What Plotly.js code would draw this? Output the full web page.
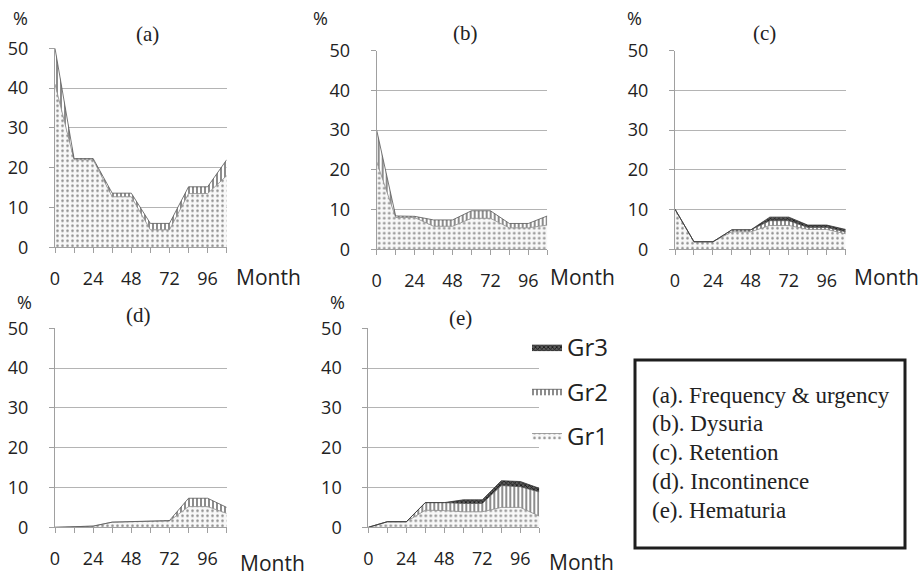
<!DOCTYPE html>
<html><head><meta charset="utf-8">
<script src="https://cdn.plot.ly/plotly-3.0.1.min.js"></script>
<style>html,body{margin:0;padding:0;background:#fff}</style>
</head><body><div id="chart" style="width:919px;height:577px"></div>
<script>
// ---- data ----
const months = [0,12,24,36,48,60,72,84,96,108];
const monthTickText = ['0','','24','','48','','72','','96',''];
const yTicks = [0,10,20,30,40,50];
const panelLabels = ['(a)','(b)','(c)','(d)','(e)'];
const symptomNames = ['(a). Frequency & urgency','(b). Dysuria','(c). Retention','(d). Incontinence','(e). Hematuria'];
const groupNames = ['Gr1','Gr2','Gr3'];

const freqGr1 = [41, 22, 22, 12.7, 12.7, 4.4, 4.4, 13.5, 13.5, 18];
const freqGr2 = [9, 0.3, 0.3, 0.9, 0.9, 1.6, 1.6, 1.7, 1.7, 4];
const freqGr3 = [0,0,0,0,0,0,0,0,0,0];

const dysGr1 = [22, 8, 8, 5.8, 5.8, 7.8, 7.8, 5.4, 5.4, 6.1];
const dysGr2 = [8, 0.4, 0.3, 1.6, 1.6, 1.9, 1.9, 1.1, 1.1, 2.3];
const dysGr3 = [0,0,0,0,0,0,0,0,0,0];

const retGr1 = [10.1, 1.9, 1.9, 4.4, 4.4, 6.0, 6.0, 5.0, 5.0, 3.9];
const retGr2 = [0, 0, 0, 0.5, 0.5, 1.2, 1.2, 0.5, 0.5, 0.5];
const retGr3 = [0, 0, 0, 0, 0, 0.9, 0.9, 0.6, 0.6, 0.6];

const incGr1 = [0, 0.2, 0.3, 1.3, 1.4, 1.5, 1.6, 5.2, 5.2, 3.5];
const incGr2 = [0, 0, 0, 0, 0, 0.1, 0.1, 2.1, 2.1, 1.5];
const incGr3 = [0,0,0,0,0,0,0,0,0,0];

const hemGr1 = [0, 1.4, 1.4, 4.3, 4.2, 3.9, 3.9, 5.0, 5.0, 2.8];
const hemGr2 = [0, 0, 0, 1.9, 2.0, 2.1, 2.1, 5.5, 5.2, 6.1];
const hemGr3 = [0, 0, 0, 0, 0, 0.9, 0.9, 1.2, 1.3, 0.9];

const panels = [
  [freqGr1, freqGr2, freqGr3],
  [dysGr1, dysGr2, dysGr3],
  [retGr1, retGr2, retGr3],
  [incGr1, incGr2, incGr3],
  [hemGr1, hemGr2, hemGr3]
];

// ---- styling ----
const W = 919, H = 577;
const px = v => v / W;
const py = v => 1 - v / H;
// plot boxes in pixels: [left, right, bottom(y=0), top(y=50)]
const boxes = [
  [55, 226.7, 247.3, 48.3],
  [376.7, 547.3, 249.3, 50.7],
  [675, 845.7, 249.3, 50.7],
  [55, 226.7, 527.3, 328.3],
  [368.3, 539.3, 527.3, 328.3]
];
const patterns = [
  {shape: '.', fgcolor: '#8c8c8c', bgcolor: '#f8f8f8', size: 5, solidity: 0.2},
  {shape: '|', fgcolor: '#3f3f3f', bgcolor: '#ffffff', size: 4, solidity: 0.3},
  {shape: 'x', fgcolor: '#151515', bgcolor: '#5a5a5a', size: 3, solidity: 0.45}
];
const lineColors = ['#8a8a8a', '#555555', '#333333'];
const legendRanks = [3, 2, 1];
const tickFont = {family: 'Open Sans, sans-serif', size: 18, color: '#222'};

const traces = [];
const layout = {
  width: W, height: H,
  margin: {l: 0, r: 0, t: 0, b: 0},
  paper_bgcolor: '#fff', plot_bgcolor: 'rgba(0,0,0,0)',
  showlegend: true,
  legend: {
    x: px(527), y: py(325), xanchor: 'left', yanchor: 'top',
    font: {family: 'Open Sans, sans-serif', size: 24, color: '#222'},
    traceorder: 'grouped', tracegroupgap: 10,
    bgcolor: 'rgba(0,0,0,0)', itemwidth: 30
  },
  annotations: [],
  shapes: []
};

panels.forEach((series, i) => {
  const sfx = i === 0 ? '' : String(i + 1);
  const b = boxes[i];
  series.forEach((vals, g) => {
    if (!vals.some(v => v !== 0)) return;
    traces.push({
      type: 'scatter', mode: 'lines',
      x: months, y: vals,
      name: groupNames[g],
      stackgroup: 'p' + i,
      legendgroup: groupNames[g],
      legendrank: legendRanks[g],
      showlegend: i === 4,
      xaxis: 'x' + sfx, yaxis: 'y' + sfx,
      line: {color: lineColors[g], width: 0.8},
      fillpattern: patterns[g],
      fillcolor: patterns[g].bgcolor,
      hoverinfo: 'skip'
    });
  });
  layout['xaxis' + sfx] = {
    domain: [px(b[0]), px(b[1])], anchor: 'y' + sfx,
    range: [0, 108], tickvals: months, ticktext: monthTickText,
    ticks: 'outside', ticklen: 5, tickcolor: '#a0a0a0',
    showline: true, linecolor: '#a0a0a0', linewidth: 1,
    showgrid: false, zeroline: false, tickfont: tickFont,
    ticklabelstandoff: 10, fixedrange: true
  };
  layout['yaxis' + sfx] = {
    domain: [py(b[2]), py(b[3])], anchor: 'x' + sfx,
    range: [0, 50], tickvals: yTicks,
    ticks: 'outside', ticklen: 5, tickcolor: '#a0a0a0',
    showline: true, linecolor: '#a0a0a0', linewidth: 1,
    showgrid: true, gridcolor: '#b4b4b4', gridwidth: 1,
    zeroline: false, tickfont: tickFont,
    ticklabelstandoff: 17, fixedrange: true
  };
});

// panel titles, % and Month labels
const titlePos = [[147, 34], [466, 33], [764, 33], [138, 315], [461, 318]];
const pctPos = [[20, 18], [320, 18], [634, 18], [24, 302], [337, 302]];
const monthPos = [[268, 277], [582, 277], [886, 277], [272, 563], [581, 562]];
panelLabels.forEach((lab, i) => {
  layout.annotations.push({
    xref: 'paper', yref: 'paper', x: px(titlePos[i][0]), y: py(titlePos[i][1]),
    text: lab, showarrow: false, xanchor: 'center', yanchor: 'middle',
    font: {family: 'Liberation Serif, Times New Roman, serif', size: 21, color: '#222'}
  });
  layout.annotations.push({
    xref: 'paper', yref: 'paper', x: px(pctPos[i][0]), y: py(pctPos[i][1]),
    text: '%', showarrow: false, xanchor: 'center', yanchor: 'middle',
    font: {family: 'Open Sans, sans-serif', size: 18, color: '#222'}
  });
  layout.annotations.push({
    xref: 'paper', yref: 'paper', x: px(monthPos[i][0]), y: py(monthPos[i][1]),
    text: 'Month', showarrow: false, xanchor: 'center', yanchor: 'middle',
    font: {family: 'Open Sans, sans-serif', size: 21, color: '#222'}
  });
});

// descriptive box
const descY = [395, 423.5, 452.5, 481.5, 510];
symptomNames.forEach((t, i) => {
  layout.annotations.push({
    xref: 'paper', yref: 'paper', x: px(650), y: py(descY[i]),
    text: t, showarrow: false, xanchor: 'left', yanchor: 'middle',
    font: {family: 'Liberation Serif, Times New Roman, serif', size: 23, color: '#222'}
  });
});
layout.shapes.push({
  type: 'rect', xref: 'paper', yref: 'paper',
  x0: px(635), x1: px(905), y0: py(548), y1: py(360),
  line: {color: '#1e1e1e', width: 3}, fillcolor: 'rgba(0,0,0,0)'
});

Plotly.newPlot('chart', traces, layout, {staticPlot: true, displayModeBar: false});
</script>
</body></html>
